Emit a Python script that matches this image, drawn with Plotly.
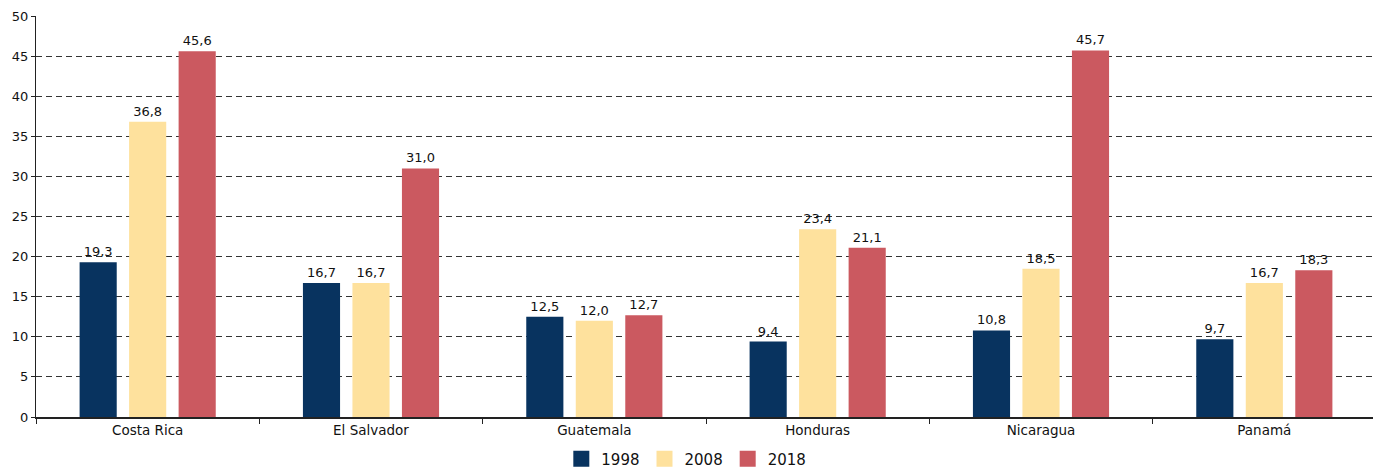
import plotly.graph_objects as go

countries = ["Costa Rica", "El Salvador", "Guatemala", "Honduras", "Nicaragua", "Panamá"]
v1998 = [19.3, 16.7, 12.5, 9.4, 10.8, 9.7]
v2008 = [36.8, 16.7, 12.0, 23.4, 18.5, 16.7]
v2018 = [45.6, 31.0, 12.7, 21.1, 45.7, 18.3]

series = [("1998", v1998, "#08335f"), ("2008", v2008, "#fee19d"), ("2018", v2018, "#cb5960")]

fig = go.Figure()
for name, vals, col in series:
    fig.add_trace(go.Bar(
        x=countries, y=vals, name=name, marker_color=col, marker_line_width=0,
        texttemplate="%{y:.1f}", textposition="outside", cliponaxis=False,
        constraintext="none", showlegend=False,
        textfont=dict(size=13, color="#111111"),
    ))
# legend entries with bigger square swatches
for name, vals, col in series:
    fig.add_trace(go.Scatter(
        x=[None], y=[None], mode="markers", name=name,
        marker=dict(symbol="square", size=18, color=col),
    ))

# page body adds an 8px offset, so the figure is a bit smaller than the window
fig.update_layout(
    width=1373, height=461,
    margin=dict(l=28, r=5, t=8, b=52),
    paper_bgcolor="white", plot_bgcolor="white",
    separators=",.",
    barmode="group", bargap=0.335, bargroupgap=0.25,
    font=dict(family="DejaVu Sans, Arial, sans-serif", size=13, color="#111111"),
    showlegend=True,
    legend=dict(orientation="h", xref="container", x=0.403, xanchor="left",
                yref="container", y=0.0217, yanchor="middle", font=dict(size=15),
                itemwidth=30, traceorder="normal", tracegroupgap=0),
)
fig.update_xaxes(showline=True, linecolor="#222222", linewidth=1.5, automargin=False,
                 ticks="outside", tickson="boundaries", ticklen=5, tickcolor="#222222",
                 tickfont=dict(size=13.5), showgrid=False)
fig.update_yaxes(range=[0, 50], dtick=5, showline=True, linecolor="#222222", linewidth=1,
                 automargin=False, ticks="outside", ticklen=4, tickcolor="#222222",
                 showgrid=True, gridcolor="#333333", griddash="6px,4px", gridwidth=1,
                 zeroline=False)

fig.write_html("out.html")
